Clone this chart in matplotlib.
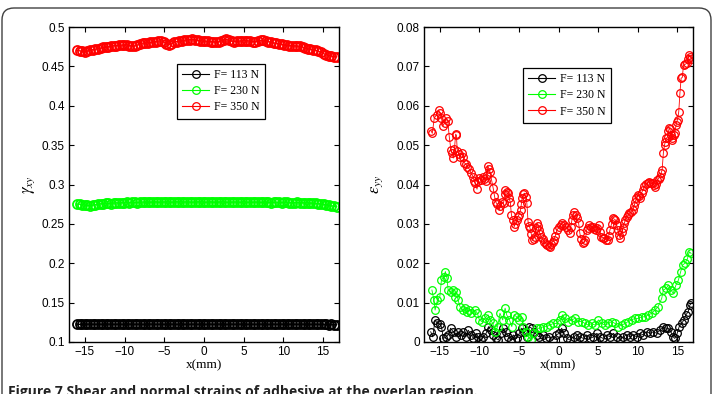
import numpy as np
import matplotlib.pyplot as plt
from matplotlib.patches import FancyBboxPatch

plt.rcParams['mathtext.fontset'] = 'stix'
plt.rcParams['font.family'] = 'Liberation Sans'

# -------------------------------------------------
# left panel: shear strain gamma_xy along the overlap
# -------------------------------------------------
x_shear = np.linspace(-16.0, 16.7, 100)

gxy_113 = [0.1226, 0.1224, 0.1225, 0.1223, 0.1226, 0.1227, 0.1225, 0.1224, 0.1226, 0.1225,
           0.1223, 0.1225, 0.1227, 0.1226, 0.1224, 0.1225, 0.1226, 0.1224, 0.1223, 0.1225,
           0.1227, 0.1225, 0.1224, 0.1226, 0.1225, 0.1223, 0.1224, 0.1226, 0.1227, 0.1225,
           0.1224, 0.1225, 0.1226, 0.1224, 0.1223, 0.1225, 0.1226, 0.1225, 0.1224, 0.1226,
           0.1227, 0.1225, 0.1223, 0.1224, 0.1226, 0.1225, 0.1224, 0.1226, 0.1225, 0.1223,
           0.1225, 0.1226, 0.1224, 0.1225, 0.1227, 0.1225, 0.1224, 0.1223, 0.1225, 0.1226,
           0.1225, 0.1224, 0.1226, 0.1225, 0.1223, 0.1224, 0.1226, 0.1225, 0.1224, 0.1225,
           0.1226, 0.1224, 0.1225, 0.1223, 0.1225, 0.1226, 0.1224, 0.1225, 0.1226, 0.1224,
           0.1223, 0.1225, 0.1226, 0.1225, 0.1224, 0.1225, 0.1226, 0.1224, 0.1225, 0.1223,
           0.1224, 0.1225, 0.1224, 0.1223, 0.1225, 0.1224, 0.1222, 0.1223, 0.1221, 0.1220]

gxy_230 = [0.2752, 0.2750, 0.2745, 0.2740, 0.2735, 0.2730, 0.2738, 0.2745, 0.2750, 0.2755,
           0.2758, 0.2760, 0.2762, 0.2758, 0.2765, 0.2768, 0.2765, 0.2770, 0.2768, 0.2772,
           0.2770, 0.2775, 0.2772, 0.2770, 0.2774, 0.2778, 0.2775, 0.2772, 0.2776, 0.2778,
           0.2780, 0.2776, 0.2774, 0.2778, 0.2780, 0.2777, 0.2775, 0.2778, 0.2781, 0.2779,
           0.2776, 0.2778, 0.2780, 0.2777, 0.2775, 0.2778, 0.2780, 0.2779, 0.2776, 0.2774,
           0.2777, 0.2779, 0.2776, 0.2774, 0.2777, 0.2779, 0.2777, 0.2775, 0.2773, 0.2776,
           0.2778, 0.2776, 0.2774, 0.2776, 0.2778, 0.2775, 0.2773, 0.2775, 0.2777, 0.2775,
           0.2772, 0.2774, 0.2776, 0.2773, 0.2771, 0.2774, 0.2776, 0.2773, 0.2770, 0.2772,
           0.2774, 0.2771, 0.2769, 0.2771, 0.2773, 0.2770, 0.2768, 0.2766, 0.2768, 0.2765,
           0.2762, 0.2760, 0.2757, 0.2752, 0.2748, 0.2742, 0.2736, 0.2730, 0.2725, 0.2720]

gxy_350 = [0.4705, 0.4698, 0.4690, 0.4685, 0.4695, 0.4705, 0.4712, 0.4718, 0.4725, 0.4732,
           0.4740, 0.4745, 0.4750, 0.4755, 0.4762, 0.4765, 0.4768, 0.4770, 0.4772, 0.4775,
           0.4765, 0.4755, 0.4758, 0.4770, 0.4785, 0.4795, 0.4798, 0.4800, 0.4805, 0.4810,
           0.4815, 0.4822, 0.4825, 0.4815, 0.4790, 0.4775, 0.4785, 0.4805, 0.4815, 0.4822,
           0.4828, 0.4832, 0.4838, 0.4840, 0.4842, 0.4838, 0.4830, 0.4825, 0.4822, 0.4820,
           0.4818, 0.4815, 0.4812, 0.4808, 0.4810, 0.4825, 0.4838, 0.4842, 0.4830, 0.4820,
           0.4815, 0.4818, 0.4822, 0.4825, 0.4828, 0.4826, 0.4820, 0.4815, 0.4812, 0.4820,
           0.4830, 0.4835, 0.4828, 0.4815, 0.4805, 0.4798, 0.4792, 0.4785, 0.4778, 0.4772,
           0.4768, 0.4765, 0.4762, 0.4760, 0.4758, 0.4755, 0.4748, 0.4730, 0.4722, 0.4718,
           0.4712, 0.4705, 0.4695, 0.4678, 0.4662, 0.4650, 0.4638, 0.4630, 0.4625, 0.4622]

# -------------------------------------------------
# right panel: normal strain eps_yy (read point by point)
# -------------------------------------------------
eyy_113_x = [-16.15, -15.9, -15.6, -15.3, -15.0, -14.8, -14.55, -14.2, -13.95, -13.65,
             -13.3, -12.95, -12.65, -12.35, -12.05, -11.7, -11.4, -11.05, -10.75, -10.4,
             -10.15, -9.85, -9.5, -9.15, -8.85, -8.55, -8.25, -7.9, -7.6, -7.3,
             -7.0, -6.65, -6.35, -6.05, -5.7, -5.3, -4.95, -4.65, -4.35, -4.0,
             -3.7, -3.4, -3.1, -2.75, -2.45, -2.0, -1.6, -1.15, -0.75, -0.3,
             0.1, 0.4, 0.7, 1.05, 1.45, 1.9, 2.3, 2.7, 3.15, 3.55,
             4.0, 4.4, 4.85, 5.25, 5.65, 6.1, 6.5, 6.95, 7.35, 7.8,
             8.2, 8.6, 9.05, 9.45, 9.9, 10.3, 10.7, 11.15, 11.55, 12.0,
             12.4, 12.85, 13.25, 13.6, 13.9, 14.2, 14.5, 14.7, 15.0, 15.25,
             15.55, 15.85, 16.1, 16.4, 16.6, 16.8]
eyy_113 = [0.0026, 0.0013, 0.0056, 0.0047, 0.0046, 0.0039, 0.0009, 0.0013, 0.0018, 0.0035,
           0.0026, 0.0013, 0.0026, 0.0018, 0.0026, 0.0013, 0.0030, 0.0018, 0.0009, 0.0022,
           0.0013, 0.0005, 0.0013, 0.0022, 0.0039, 0.0030, 0.0018, 0.0009, 0.0005, 0.0022,
           0.0035, 0.0026, 0.0013, 0.0005, 0.0018, 0.0009, 0.0022, 0.0035, 0.0026, 0.0013,
           0.0039, 0.0035, 0.0026, 0.0018, 0.0013, 0.0018, 0.0009, 0.0013, 0.0005, 0.0018,
           0.0022, 0.0035, 0.0022, 0.0009, 0.0005, 0.0013, 0.0018, 0.0013, 0.0009, 0.0018,
           0.0009, 0.0013, 0.0022, 0.0013, 0.0009, 0.0018, 0.0013, 0.0022, 0.0013, 0.0005,
           0.0013, 0.0018, 0.0013, 0.0018, 0.0013, 0.0022, 0.0018, 0.0026, 0.0022, 0.0026,
           0.0022, 0.0030, 0.0039, 0.0035, 0.0035, 0.0026, 0.0013, 0.0009, 0.0022, 0.0039,
           0.0047, 0.0056, 0.0069, 0.0077, 0.0094, 0.0098]

eyy_230_x = [-16.0, -15.75, -15.6, -15.3, -15.0, -14.8, -14.5, -14.3, -14.1, -13.95,
             -13.65, -13.3, -13.1, -12.9, -12.7, -12.45, -12.1, -11.8, -11.6, -11.3,
             -11.0, -10.55, -10.25, -10.0, -9.7, -9.3, -8.9, -8.6, -8.3, -8.0,
             -7.7, -7.4, -7.05, -6.75, -6.55, -6.2, -5.9, -5.6, -5.3, -4.95,
             -4.65, -4.45, -4.1, -3.8, -3.5, -3.2, -2.75, -2.35, -1.9, -1.5,
             -1.1, -0.65, -0.2, 0.2, 0.5, 0.8, 1.25, 1.65, 2.1, 2.5,
             2.95, 3.35, 3.75, 4.2, 4.6, 5.05, 5.45, 5.9, 6.3, 6.7,
             7.15, 7.55, 8.0, 8.4, 8.8, 9.25, 9.65, 10.1, 10.5, 10.95,
             11.35, 11.8, 12.2, 12.6, 13.05, 13.25, 13.6, 13.9, 14.2, 14.5,
             14.85, 15.15, 15.45, 15.7, 16.0, 16.3, 16.55, 16.75]
eyy_230 = [0.0132, 0.0107, 0.0081, 0.0107, 0.0115, 0.0157, 0.0166, 0.0179, 0.0162, 0.0132,
           0.0128, 0.0132, 0.0115, 0.0128, 0.0107, 0.0090, 0.0081, 0.0086, 0.0077, 0.0081,
           0.0073, 0.0081, 0.0073, 0.0056, 0.0052, 0.0060, 0.0069, 0.0056, 0.0047, 0.0026,
           0.0039, 0.0073, 0.0056, 0.0086, 0.0069, 0.0056, 0.0039, 0.0069, 0.0064, 0.0056,
           0.0064, 0.0039, 0.0026, 0.0013, 0.0005, 0.0022, 0.0035, 0.0035, 0.0039, 0.0039,
           0.0043, 0.0047, 0.0047, 0.0056, 0.0069, 0.0060, 0.0052, 0.0056, 0.0060, 0.0052,
           0.0052, 0.0047, 0.0043, 0.0047, 0.0043, 0.0056, 0.0047, 0.0043, 0.0047, 0.0052,
           0.0047, 0.0039, 0.0043, 0.0047, 0.0052, 0.0056, 0.0060, 0.0060, 0.0064, 0.0064,
           0.0069, 0.0073, 0.0081, 0.0090, 0.0111, 0.0132, 0.0136, 0.0145, 0.0132, 0.0124,
           0.0145, 0.0157, 0.0179, 0.0196, 0.0200, 0.0212, 0.0229, 0.0225]

eyy_350_x = [-16.1, -15.95, -15.7, -15.4, -15.15, -15.0, -14.8, -14.6, -14.4, -14.2,
             -14.0, -13.8, -13.6, -13.45, -13.3, -13.15, -13.0, -12.9, -12.8, -12.6,
             -12.45, -12.2, -12.05, -11.9, -11.7, -11.55, -11.3, -11.06, -10.8, -10.65,
             -10.5, -10.3, -10.15, -10.0, -9.8, -9.6, -9.4, -9.2, -9.05, -8.95,
             -8.8, -8.66, -8.45, -8.25, -8.1, -7.95, -7.75, -7.5, -7.35, -7.15,
             -6.95, -6.8, -6.7, -6.55, -6.4, -6.25, -6.1, -5.95, -5.8, -5.6,
             -5.45, -5.3, -5.15, -5.0, -4.8, -4.7, -4.6, -4.45, -4.3, -4.15,
             -4.0, -3.85, -3.7, -3.6, -3.45, -3.3, -3.15, -3.0, -2.85, -2.7,
             -2.6, -2.5, -2.35, -2.2, -2.0, -1.8, -1.6, -1.4, -1.25, -1.1,
             -0.9, -0.75, -0.6, -0.4, -0.2, 0.1, 0.3, 0.5, 0.75, 0.95,
             1.2, 1.4, 1.55, 1.7, 1.85, 2.0, 2.15, 2.3, 2.55, 2.7,
             2.85, 3.05, 3.25, 3.4, 3.55, 3.7, 3.9, 4.1, 4.3, 4.5,
             4.75, 4.9, 5.1, 5.25, 5.4, 5.6, 5.8, 6.0, 6.2, 6.35,
             6.5, 6.7, 6.85, 7.05, 7.2, 7.35, 7.5, 7.65, 7.8, 8.0,
             8.15, 8.3, 8.45, 8.6, 8.8, 8.95, 9.2, 9.4, 9.55, 9.7,
             9.85, 10.0, 10.15, 10.3, 10.5, 10.65, 10.85, 11.05, 11.3, 11.5,
             11.7, 11.9, 12.05, 12.2, 12.35, 12.5, 12.65, 12.8, 12.95, 13.1,
             13.25, 13.4, 13.5, 13.65, 13.8, 13.9, 14.0, 14.1, 14.2, 14.3,
             14.4, 14.55, 14.7, 14.85, 14.95, 15.05, 15.2, 15.35, 15.5, 15.65,
             15.8, 16.0, 16.2, 16.35, 16.45, 16.6, 16.75]
eyy_350 = [0.0536, 0.0530, 0.0569, 0.0577, 0.0589, 0.0582, 0.0569, 0.0549, 0.0556, 0.0570,
           0.0562, 0.0520, 0.0488, 0.0480, 0.0467, 0.0490, 0.0528, 0.0525, 0.0486, 0.0478,
           0.0470, 0.0480, 0.0470, 0.0455, 0.0452, 0.0445, 0.0440, 0.0429, 0.0420, 0.0410,
           0.0403, 0.0388, 0.0410, 0.0416, 0.0412, 0.0418, 0.0414, 0.0408, 0.0425, 0.0448,
           0.0440, 0.0432, 0.0411, 0.0390, 0.0372, 0.0356, 0.0350, 0.0335, 0.0345, 0.0356,
           0.0352, 0.0375, 0.0386, 0.0380, 0.0378, 0.0365, 0.0356, 0.0323, 0.0310, 0.0293,
           0.0300, 0.0310, 0.0318, 0.0323, 0.0335, 0.0350, 0.0365, 0.0375, 0.0378, 0.0368,
           0.0353, 0.0306, 0.0295, 0.0289, 0.0275, 0.0259, 0.0262, 0.0267, 0.0290, 0.0302,
           0.0295, 0.0284, 0.0275, 0.0267, 0.0262, 0.0255, 0.0250, 0.0246, 0.0244, 0.0242,
           0.0248, 0.0255, 0.0259, 0.0270, 0.0284, 0.0293, 0.0298, 0.0301, 0.0297, 0.0293,
           0.0285, 0.0276, 0.0292, 0.0310, 0.0322, 0.0331, 0.0322, 0.0314, 0.0301, 0.0276,
           0.0262, 0.0251, 0.0255, 0.0259, 0.0284, 0.0290, 0.0297, 0.0292, 0.0293, 0.0288,
           0.0284, 0.0290, 0.0297, 0.0280, 0.0267, 0.0265, 0.0263, 0.0260, 0.0259, 0.0270,
           0.0284, 0.0300, 0.0314, 0.0312, 0.0310, 0.0298, 0.0284, 0.0272, 0.0263, 0.0280,
           0.0290, 0.0301, 0.0310, 0.0318, 0.0322, 0.0327, 0.0330, 0.0335, 0.0345, 0.0356,
           0.0365, 0.0373, 0.0370, 0.0365, 0.0378, 0.0386, 0.0395, 0.0401, 0.0405, 0.0407,
           0.0403, 0.0405, 0.0398, 0.0394, 0.0402, 0.0411, 0.0415, 0.0420, 0.0428, 0.0437,
           0.0479, 0.0500, 0.0509, 0.0518, 0.0521, 0.0535, 0.0543, 0.0540, 0.0526, 0.0518,
           0.0513, 0.0525, 0.0530, 0.0550, 0.0560, 0.0565, 0.0585, 0.0633, 0.0670, 0.0672,
           0.0703, 0.0705, 0.0708, 0.0720, 0.0729, 0.0725, 0.0720]

labels = ['F= 113 N', 'F= 230 N', 'F= 350 N']
colors = ['black', '#00ff00', 'red']

x_ticks = [-15, -10, -5, 0, 5, 10, 15]
gxy_ticks = [0.1, 0.15, 0.2, 0.25, 0.3, 0.35, 0.4, 0.45, 0.5]
gxy_ticklabels = ['0.1', '0.15', '0.2', '0.25', '0.3', '0.35', '0.4', '0.45', '0.5']
eyy_ticks = [0, 0.01, 0.02, 0.03, 0.04, 0.05, 0.06, 0.07, 0.08]
eyy_ticklabels = ['0', '0.01', '0.02', '0.03', '0.04', '0.05', '0.06', '0.07', '0.08']

caption = 'Figure 7 Shear and normal strains of adhesive at the overlap region.'

W, H = 715, 394
fig = plt.figure(figsize=(W / 100, H / 100), dpi=100)

ax1 = fig.add_axes([69 / W, 1 - 342 / H, 270 / W, 315 / H])
ax2 = fig.add_axes([424 / W, 1 - 342 / H, 269 / W, 315 / H])

# left curves are very dense in the original: bigger, heavier rings
mk_left = dict(marker='o', markersize=6.5, markerfacecolor='none', markeredgewidth=1.3, linewidth=1.0)
mk_right = dict(marker='o', markersize=5.5, markerfacecolor='none', markeredgewidth=0.9, linewidth=0.6)

for y, c, lab in zip([gxy_113, gxy_230, gxy_350], colors, labels):
    ax1.plot(x_shear, y, color=c, markeredgecolor=c, label=lab, **mk_left)

for xs, y, c, lab in zip([eyy_113_x, eyy_230_x, eyy_350_x], [eyy_113, eyy_230, eyy_350], colors, labels):
    ax2.plot(xs, y, color=c, markeredgecolor=c, label=lab, **mk_right)

for ax, yt, ytl, ylim in [(ax1, gxy_ticks, gxy_ticklabels, (0.1, 0.5)),
                          (ax2, eyy_ticks, eyy_ticklabels, (0, 0.08))]:
    ax.set_xlim(-17, 17)
    ax.set_ylim(*ylim)
    ax.set_xticks(x_ticks)
    ax.set_yticks(yt)
    ax.set_yticklabels(ytl)
    ax.tick_params(direction='in', top=True, right=True, length=3.5, width=0.8,
                   labelsize=8.5, pad=3)
    for s in ax.spines.values():
        s.set_linewidth(1.0)
    ax.set_xlabel('x(mm)', family='Liberation Serif', fontsize=9.5)
    ax.xaxis.set_label_coords(0.5, -0.055)

ax1.set_ylabel(r'$\gamma_{xy}$', fontsize=12)
ax1.yaxis.set_label_coords(-0.118, 0.5)
ax2.set_ylabel(r'$\varepsilon_{yy}$', fontsize=12)
ax2.yaxis.set_label_coords(-0.146, 0.5)

leg_kw = dict(loc='upper left', borderaxespad=0, fancybox=False, framealpha=1,
              edgecolor='black', prop={'family': 'Liberation Serif', 'size': 8.5},
              handlelength=2.3, handletextpad=0.4, labelspacing=0.35, borderpad=0.45)
l1 = ax1.legend(bbox_to_anchor=(0.40, 0.883), **leg_kw)
l2 = ax2.legend(bbox_to_anchor=(0.368, 0.870), **leg_kw)
for l in (l1, l2):
    l.get_frame().set_linewidth(0.9)
    for h in l.get_lines():
        h.set_markersize(5.5)
        h.set_markeredgewidth(0.9)
        h.set_linewidth(0.8)

# outer rounded frame and caption, as on the journal page
frame = FancyBboxPatch((0.02, -0.5), 7.09, 3.86 + 0.5,
                       boxstyle='round,pad=0,rounding_size=0.12',
                       transform=fig.dpi_scale_trans, facecolor='none',
                       edgecolor='#404040', linewidth=1.0)
fig.add_artist(frame)
fig.text(8 / W, 1 - 385 / H, caption, fontsize=10, fontweight='bold',
         family='Open Sans', va='top', color='#222222')

fig.savefig('out.png', dpi=100)
